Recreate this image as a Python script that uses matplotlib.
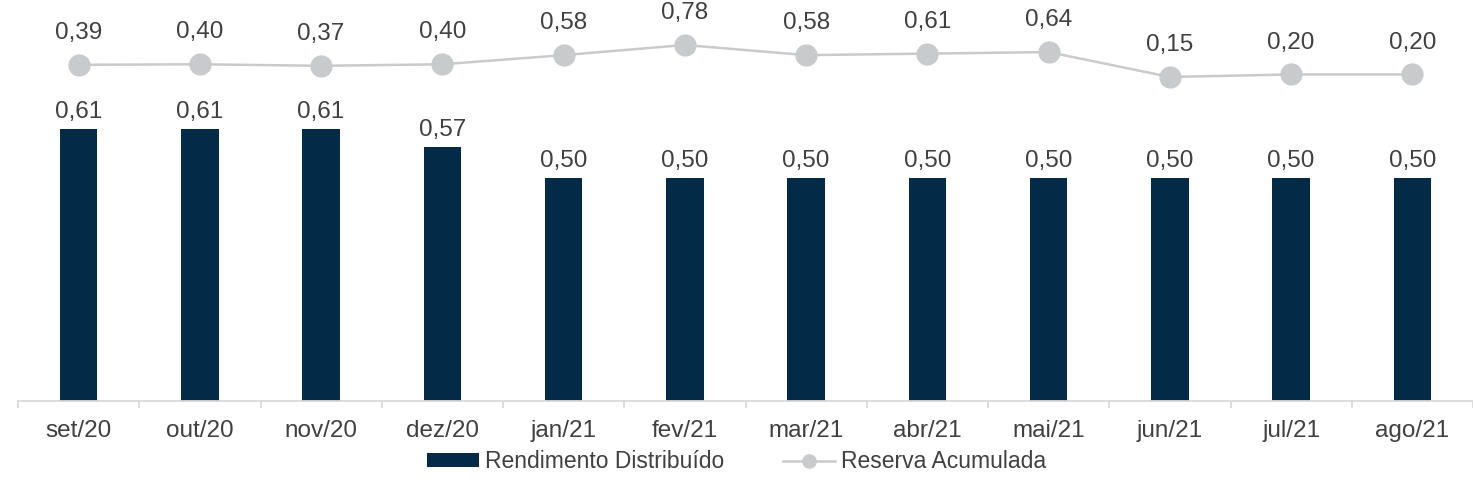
import matplotlib.pyplot as plt
from matplotlib.lines import Line2D
from matplotlib.patches import Patch
import numpy as np

plt.rcParams['font.family'] = ['Liberation Sans', 'DejaVu Sans']

meses = ['set/20', 'out/20', 'nov/20', 'dez/20', 'jan/21', 'fev/21',
         'mar/21', 'abr/21', 'mai/21', 'jun/21', 'jul/21', 'ago/21']
rendimento = [0.61, 0.61, 0.61, 0.57, 0.50, 0.50, 0.50, 0.50, 0.50, 0.50, 0.50, 0.50]
reserva = [0.39, 0.40, 0.37, 0.40, 0.58, 0.78, 0.58, 0.61, 0.64, 0.15, 0.20, 0.20]

cor_barra = '#032A46'
cor_linha = '#C9CACC'
cor_texto = '#404040'
fs = 17.5

fig = plt.figure(figsize=(14.73, 4.91), dpi=100)
ax = fig.add_axes([18 / 1473, 90 / 491, 1455 / 1473, 401 / 491])
x = np.arange(len(meses))

ax.bar(x, rendimento, width=0.31, color=cor_barra, zorder=2)
for xi, v in zip(x, rendimento):
    ax.annotate(f'{v:.2f}'.replace('.', ','), (xi, v), xytext=(0, 4),
                textcoords='offset points', ha='center', va='bottom',
                fontsize=fs, color=cor_texto)

ax.set_xlim(-0.5, -0.5 + 1455 / 122.5)
ax.set_ylim(0, 401 / 446)

ax2 = ax.twinx()
ax2.plot(x, reserva, color=cor_linha, lw=1.8, marker='o', ms=15,
         markerfacecolor=cor_linha, markeredgecolor=cor_linha, zorder=3)
for xi, v in zip(x, reserva):
    ax2.annotate(f'{v:.2f}'.replace('.', ','), (xi, v), xytext=(0, 15),
                 textcoords='offset points', ha='center', va='bottom',
                 fontsize=fs, color=cor_texto)
ax2.set_ylim((84.6 - 401) / 50.8, 84.6 / 50.8)
ax2.set_yticks([])

for a in (ax, ax2):
    for s in ['top', 'right', 'left']:
        a.spines[s].set_visible(False)
ax2.spines['bottom'].set_visible(False)
ax.spines['bottom'].set_color('#D9D9D9')
ax.spines['bottom'].set_linewidth(1.3)
ax.set_yticks([])

ax.set_xticks(x)
ax.set_xticklabels(meses, fontsize=fs, color=cor_texto)
ax.set_xticks(np.arange(-0.5, len(meses)), minor=True)
ax.tick_params(axis='x', which='major', length=0, pad=14)
ax.tick_params(axis='x', which='minor', length=5, width=1.3, color='#D9D9D9')

handles = [Patch(facecolor=cor_barra, edgecolor='none'),
           Line2D([0], [0], color=cor_linha, lw=1.8, marker='o', ms=9.5)]
fig.legend(handles, ['Rendimento Distribuído', 'Reserva Acumulada'],
           loc='center', bbox_to_anchor=(0.5, 29 / 491), ncol=2, frameon=False,
           fontsize=16.5, labelcolor=cor_texto, handlelength=2.25,
           handletextpad=0.25, columnspacing=2.6, handleheight=0.57)

fig.savefig('out.png', dpi=100)
